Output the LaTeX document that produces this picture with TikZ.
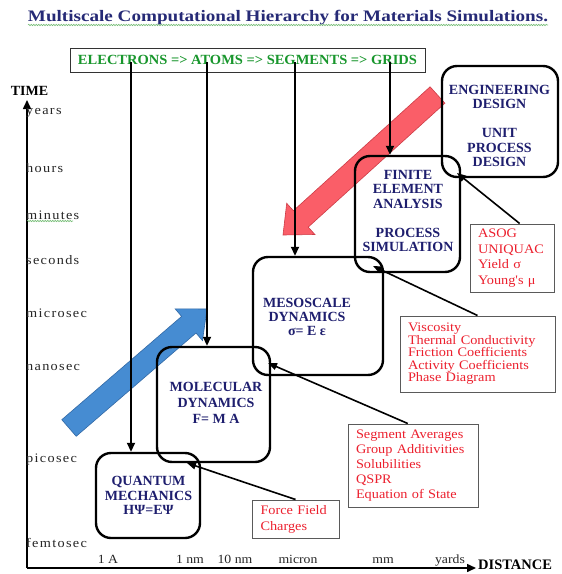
\documentclass[tikz,border=0pt]{standalone}
\usepackage{fontspec}
\setmainfont{Liberation Serif}
\newfontfamily\annfont{Liberation Serif}[FakeStretch=1.1]
\newfontfamily\tickfont{Liberation Serif}[FakeStretch=1.1,LetterSpace=10]
\usetikzlibrary{arrows.meta,decorations.pathmorphing,calc}
\definecolor{navy}{RGB}{30,30,110}
\definecolor{titleblue}{RGB}{38,42,118}
\definecolor{labgreen}{RGB}{24,150,44}
\definecolor{annred}{RGB}{236,32,46}
\definecolor{annedge}{RGB}{90,90,90}
\definecolor{redfill}{RGB}{250,86,96}
\definecolor{rededge}{RGB}{205,60,70}
\definecolor{bluefill}{RGB}{70,140,210}
\definecolor{blueedge}{RGB}{50,105,165}
\definecolor{squig}{RGB}{120,190,120}
\begin{document}
\begin{tikzpicture}[x=1pt,y=-1pt,
  scalebox/.style={draw=black,line width=2.4pt,rounded corners=15pt,inner sep=0pt},
  boxtext/.style={text=navy,font=\bfseries\fontsize{14}{16}\selectfont,align=center,inner sep=0pt},
  annbox/.style={draw=annedge,line width=1pt,text=annred,align=left,inner xsep=8pt,inner ysep=0pt},
  tick/.style={font=\tickfont\fontsize{13}{15}\selectfont,inner sep=0pt,anchor=west,text=black!85},
  dist/.style={font=\annfont\fontsize{12.5}{14}\selectfont,inner sep=0pt,anchor=base,text=black!85},
  axis/.style={line width=1.5pt,-{Triangle[length=9pt,width=8pt]}},
  varrow/.style={line width=1.8pt,-{Triangle[length=9pt,width=8pt]}},
  conn/.style={line width=1.6pt,-{Triangle[length=9pt,width=7pt]}},
  squigline/.style={draw=squig,line width=0.6pt,decorate,decoration={snake,amplitude=0.7pt,segment length=2.5pt}}
]
\useasboundingbox[fill=white] (0,0) rectangle (562,574);

% big block arrows
\fill[bluefill,draw=blueedge,line width=0.6pt]
  (76.2,436.3) -- (196.0,333.0) -- (202.5,340.6) -- (207,309) -- (175.1,308.8) -- (181.6,316.4) -- (61.8,419.7) -- cycle;
\fill[redfill,draw=rededge,line width=0.6pt,fill opacity=0.95]
  (444.9,103.2) -- (308.2,227.1) -- (314.9,234.5) -- (283,235) -- (286.7,203.3) -- (293.4,210.7) -- (430.1,86.8) -- cycle;

% title
\node[anchor=base,text=titleblue,inner sep=0pt] (title) at (288,21)
  {\resizebox{520pt}{\height}{\fontsize{16}{18}\selectfont\bfseries Multiscale Computational Hierarchy for Materials Simulations.}};
\draw[squigline] (28,25) -- (548,25);

% top box
\node[draw=black!80,line width=1pt,minimum width=355pt,minimum height=24pt,inner sep=0pt,text=labgreen] (topbox) at (247.5,60)
  {\resizebox{339pt}{\height}{\fontsize{14}{16}\selectfont\bfseries ELECTRONS => ATOMS => SEGMENTS => GRIDS}};

% axes
\coordinate (origin) at (27,568);
\coordinate (ytip) at (27,100);
\coordinate (xtip) at (476,568);
\draw[axis] (origin) -- (ytip);
\draw[axis] (origin) -- (xtip);
\node[font=\bfseries\fontsize{14}{16}\selectfont,inner sep=0pt] (timelab) at (29.5,91) {TIME};
\node[font=\bfseries\fontsize{14.5}{16}\selectfont,inner sep=0pt,anchor=west] (distlab) at (478,565) {DISTANCE};

% time ticks
\node[tick] (tyears) at (26,113) {years};
\node[tick] (thours) at (26,168) {hours};
\node[tick] (tminutes) at (26,215) {minutes};
\draw[squigline] (27,221) -- (73,221);
\node[tick] (tseconds) at (26,260) {seconds};
\node[tick] (tmicro) at (26,313) {microsec};
\node[tick] (tnano) at (26,367) {nanosec};
\node[tick] (tpico) at (26,460) {picosec};
\node[tick] (tfemto) at (26,543) {femtosec};

% distance ticks
\node[dist] (d1) at (108,563) {1 A};
\node[dist] (d2) at (190,563) {1 nm};
\node[dist] (d3) at (235,563) {10 nm};
\node[dist] (d4) at (298,563) {micron};
\node[dist] (d5) at (383,563) {mm};
\node[dist] (d6) at (450,563) {yards};

% scale boxes
\node[scalebox,minimum width=104pt,minimum height=85pt] (qm) at (148,495.5) {};
\node[scalebox,minimum width=113pt,minimum height=115pt] (md) at (213.5,404.5) {};
\node[scalebox,minimum width=130pt,minimum height=118pt] (meso) at (318,316) {};
\node[scalebox,minimum width=105pt,minimum height=116pt] (fea) at (407.5,214) {};
\node[scalebox,minimum width=116pt,minimum height=111pt] (eng) at (500,121.5) {};

\node[boxtext,font=\bfseries\fontsize{14}{14.5}\selectfont] (qmt) at (148.5,495.5) {QUANTUM\\MECHANICS\\HΨ=EΨ};
\node[boxtext] (mdt) at (216,403) {MOLECULAR\\DYNAMICS\\F= M A};
\node[boxtext,font=\bfseries\fontsize{14}{14}\selectfont] (mesot) at (307,317) {MESOSCALE\\DYNAMICS\\σ= E ε};
\node[boxtext,font=\bfseries\fontsize{14}{14.5}\selectfont] (feat) at (408,211) {FINITE\\ELEMENT\\ANALYSIS\\[14.5pt]PROCESS\\SIMULATION};
\node[boxtext,font=\bfseries\fontsize{14}{14.4}\selectfont] (engt) at (499.5,126) {ENGINEERING\\DESIGN\\[14.4pt]UNIT\\PROCESS\\DESIGN};

% annotation boxes
\node[annbox,minimum height=68pt,text width=68pt,font=\annfont\fontsize{13}{15.5}\selectfont] (asog) at (512,258)
  {ASOG\\UNIQUAC\\Yield σ\\Young's μ};
\node[annbox,minimum height=76pt,text width=139pt,font=\annfont\fontsize{13}{12.5}\selectfont] (visc) at (477.5,354)
  {Viscosity\\Thermal Conductivity\\Friction Coefficients\\Activity Coefficients\\Phase Diagram};
\node[annbox,minimum height=83pt,text width=114pt,font=\annfont\fontsize{13}{15}\selectfont] (seg) at (413,465.5)
  {Segment Averages\\Group Additivities\\Solubilities\\QSPR\\Equation of State};
\node[annbox,minimum height=38pt,text width=70pt,inner xsep=8.5pt,font=\annfont\fontsize{13}{16}\selectfont] (ff) at (295.5,519)
  {Force Field\\Charges};

% vertical feed arrows from the top box
\coordinate (c1) at (131,62);
\coordinate (c2) at (207,62);
\coordinate (c3) at (295,62);
\coordinate (c4) at (390,62);
\draw[varrow] (c1) -- (qm.north -| c1);
\draw[varrow] (c2) -- (md.north -| c2);
\draw[varrow] (c3) -- (meso.north -| c3);
\draw[varrow] (c4) -- (fea.north -| c4);

% connectors to box overlaps
\coordinate (lensA) at (457,173);
\coordinate (lensB) at (373,266);
\coordinate (lensC) at (268,363);
\coordinate (lensD) at (187,463);
\draw[conn] ($(asog.north west)!0.59!(asog.north east)$) -- (lensA);
\draw[conn] (visc.north) -- (lensB);
\draw[conn] ($(seg.north west)!0.46!(seg.north east)$) -- (lensC);
\draw[conn] (ff.north) -- (lensD);
\end{tikzpicture}
\end{document}
